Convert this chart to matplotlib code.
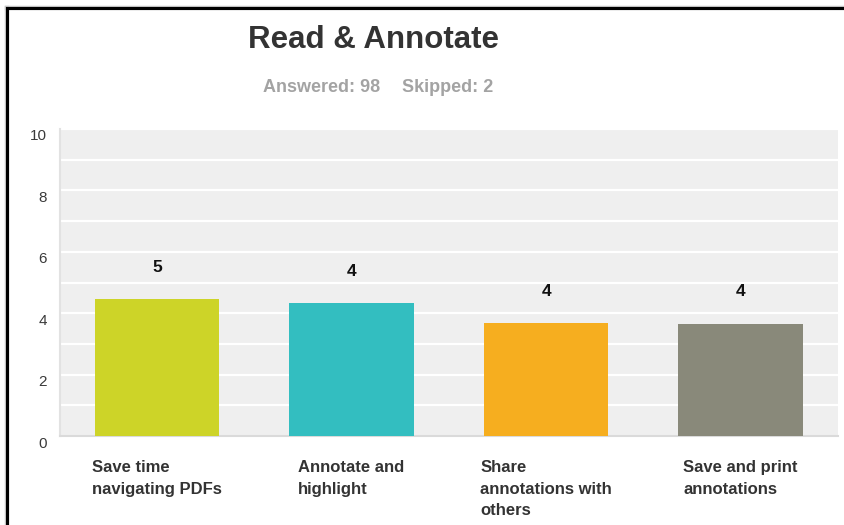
import matplotlib
matplotlib.use("Agg")
import matplotlib.pyplot as plt
import matplotlib.transforms as mtransforms
from matplotlib.lines import Line2D

plt.rcParams['font.family'] = ['Liberation Sans', 'DejaVu Sans']

# ---- data ----
categories = ["Save time\nnavigating PDFs", "Annotate and\nhighlight",
              "Share\nannotations with\nothers", "Save and print\nannotations"]
values = [4.45, 4.33, 3.67, 3.66]
value_labels = ["5", "4", "4", "4"]
bar_colors = ["#cdd428", "#33bec0", "#f6ae1f", "#89897a"]
yticks = [0, 2, 4, 6, 8, 10]
title = "Read & Annotate"
answered = "Answered: 98"
skipped = "Skipped: 2"

W, H = 844, 525
fig = plt.figure(figsize=(W / 100, H / 100), dpi=100)
fig.patch.set_facecolor("white")

ax = fig.add_axes([59.5 / W, 1 - 436 / H, (838 - 59.5) / W, (436 - 129) / H])
ax.set_facecolor("#efefef")

x = list(range(len(categories)))
ax.bar(x, values, width=0.64, color=bar_colors, edgecolor="none", zorder=3)

ax.set_xlim(-0.5, len(categories) - 0.5)
ax.set_ylim(0, 10)

# grid lines at each unit
for yv in range(1, 11):
    ax.axhline(yv, color="white", lw=1.6, zorder=1)

ax.set_yticks(yticks)
ax.set_yticklabels([str(t) for t in yticks])
ax.tick_params(axis="y", length=0, pad=9, labelsize=11, labelcolor="#3a3a3a")
ax.set_xticks([])
offset = mtransforms.ScaledTranslation(0, -6 / 100, fig.dpi_scale_trans)
for lbl in ax.get_yticklabels():
    lbl.set_transform(lbl.get_transform() + offset)

for s in ["top", "right"]:
    ax.spines[s].set_visible(False)
ax.spines["left"].set_color("#e2e2e2")
ax.spines["left"].set_linewidth(1.5)
ax.spines["bottom"].set_color("#dadada")
ax.spines["bottom"].set_linewidth(1.5)

# value labels
for xi, v, lab in zip(x, values, value_labels):
    ax.annotate(lab, (xi, v), xytext=(0, 23), textcoords="offset points",
                ha="center", va="center", fontsize=12.5, fontweight="bold",
                color="#111111", zorder=4)

# category labels
trans = mtransforms.blended_transform_factory(ax.transData, fig.transFigure)
for xi, cat in zip(x, categories):
    ax.text(xi, 1 - 460 / H, cat, transform=trans, ha="center", va="top",
            multialignment="left", fontsize=12, fontweight="bold",
            color="#333333", linespacing=1.55, clip_on=False)

# title and subtitle
fig.text(374 / W, 1 - 48 / H, title, ha="center", va="baseline",
         fontsize=22.5, fontweight="bold", color="#333333")
fig.text(380 / W, 1 - 92.5 / H, answered, ha="right", va="baseline",
         fontsize=13, fontweight="bold", color="#a3a3a3")
fig.text(402 / W, 1 - 92.5 / H, skipped, ha="left", va="baseline",
         fontsize=13, fontweight="bold", color="#a3a3a3")

# frame border (left and top)
fig.add_artist(Line2D([7 / W, 7 / W], [0, 1 - 8 / H], color="#c8c8c8", lw=3.2,
                      transform=fig.transFigure))
fig.add_artist(Line2D([7 / W, 1], [1 - 8 / H, 1 - 8 / H], color="#c8c8c8", lw=3.2,
                      transform=fig.transFigure))
fig.add_artist(Line2D([6.5 / W, 6.5 / W], [0, 1 - 7.5 / H], color="black", lw=2.2,
                      transform=fig.transFigure))
fig.add_artist(Line2D([6.5 / W, 1], [1 - 7.5 / H, 1 - 7.5 / H], color="black", lw=2.2,
                      transform=fig.transFigure))

fig.savefig("out.png", dpi=100)
